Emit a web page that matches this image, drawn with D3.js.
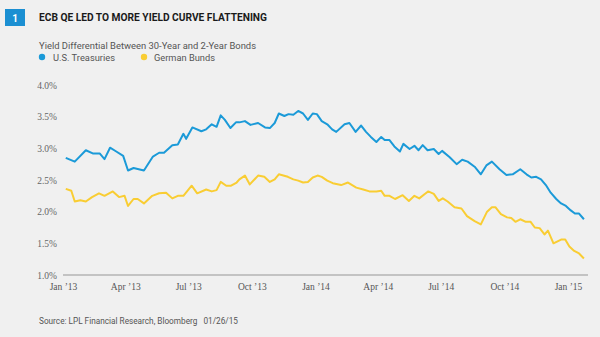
<!DOCTYPE html>
<html>
<head>
<meta charset="utf-8">
<script src="https://cdn.jsdelivr.net/npm/d3@7"></script>
<style>
  html, body { margin: 0; padding: 0; background: #f0f0f0; }
  svg { display: block; }
</style>
</head>
<body>
<svg id="chart" width="600" height="337"></svg>
<script>
// ---- Data ----
const title = "ECB QE LED TO MORE YIELD CURVE FLATTENING";
const subtitle = "Yield Differential Between 30-Year and 2-Year Bonds";
const seriesNames = ["U.S. Treasuries", "German Bunds"];
const source = "Source: LPL Financial Research, Bloomberg   01/26/15";

const usDates = ["2013-01-05","2013-01-18","2013-02-03","2013-02-13","2013-02-23","2013-03-02","2013-03-10","2013-03-19","2013-03-29","2013-04-05","2013-04-13","2013-04-28","2013-05-11","2013-05-20","2013-05-27","2013-06-08","2013-06-16","2013-06-24","2013-06-28","2013-07-07","2013-07-20","2013-07-27","2013-08-04","2013-08-11","2013-08-17","2013-08-23","2013-08-31","2013-09-08","2013-09-13","2013-09-21","2013-09-29","2013-10-10","2013-10-20","2013-10-27","2013-11-03","2013-11-09","2013-11-17","2013-11-23","2013-11-30","2013-12-07","2013-12-14","2013-12-21","2013-12-28","2014-01-03","2014-01-10","2014-01-18","2014-01-25","2014-01-31","2014-02-12","2014-02-19","2014-02-28","2014-03-08","2014-03-15","2014-03-22","2014-03-30","2014-04-06","2014-04-11","2014-04-18","2014-04-25","2014-05-03","2014-05-08","2014-05-17","2014-05-24","2014-05-30","2014-06-05","2014-06-12","2014-06-21","2014-06-28","2014-07-03","2014-07-14","2014-07-24","2014-08-01","2014-08-09","2014-08-19","2014-08-28","2014-09-05","2014-09-13","2014-09-24","2014-10-04","2014-10-13","2014-10-24","2014-11-02","2014-11-09","2014-11-16","2014-11-23","2014-11-30","2014-12-07","2014-12-15","2014-12-22","2014-12-29","2015-01-05","2015-01-11","2015-01-17","2015-01-24"];
const usValues = [2.85,2.79,2.97,2.92,2.92,2.83,3.01,2.95,2.88,2.65,2.69,2.65,2.87,2.93,2.93,3.05,3.06,3.23,3.15,3.33,3.27,3.30,3.38,3.34,3.52,3.45,3.32,3.41,3.41,3.43,3.37,3.40,3.33,3.32,3.40,3.55,3.51,3.54,3.53,3.59,3.55,3.45,3.55,3.54,3.43,3.38,3.30,3.26,3.38,3.40,3.26,3.36,3.26,3.18,3.10,3.18,3.13,3.13,3.03,2.95,3.07,2.99,3.04,2.97,3.05,2.97,2.99,2.91,2.96,2.86,2.75,2.82,2.79,2.71,2.59,2.73,2.79,2.67,2.58,2.59,2.67,2.59,2.54,2.55,2.51,2.42,2.30,2.20,2.13,2.09,2.02,1.97,1.97,1.88];

const deDates = ["2013-01-05","2013-01-13","2013-01-18","2013-01-26","2013-02-03","2013-02-12","2013-02-22","2013-03-02","2013-03-14","2013-03-23","2013-03-31","2013-04-05","2013-04-13","2013-04-19","2013-04-28","2013-05-10","2013-05-20","2013-05-30","2013-06-08","2013-06-16","2013-06-24","2013-07-06","2013-07-14","2013-07-27","2013-08-04","2013-08-11","2013-08-17","2013-08-25","2013-09-01","2013-09-09","2013-09-13","2013-09-21","2013-09-28","2013-10-10","2013-10-19","2013-10-27","2013-11-03","2013-11-09","2013-11-22","2013-11-30","2013-12-07","2013-12-14","2013-12-21","2013-12-28","2014-01-04","2014-01-10","2014-01-18","2014-01-26","2014-02-07","2014-02-17","2014-03-01","2014-03-11","2014-03-20","2014-03-30","2014-04-06","2014-04-11","2014-04-18","2014-04-26","2014-05-07","2014-05-16","2014-05-24","2014-05-31","2014-06-08","2014-06-13","2014-06-21","2014-06-28","2014-07-04","2014-07-11","2014-07-21","2014-07-31","2014-08-08","2014-08-19","2014-08-28","2014-09-06","2014-09-13","2014-09-18","2014-09-26","2014-10-05","2014-10-11","2014-10-17","2014-10-24","2014-11-01","2014-11-08","2014-11-14","2014-11-21","2014-11-28","2014-12-03","2014-12-11","2014-12-22","2014-12-28","2015-01-03","2015-01-10","2015-01-17","2015-01-24"];
const deValues = [2.36,2.33,2.16,2.18,2.16,2.23,2.29,2.25,2.32,2.23,2.25,2.09,2.20,2.20,2.13,2.25,2.29,2.30,2.21,2.25,2.25,2.41,2.29,2.35,2.32,2.34,2.47,2.41,2.41,2.46,2.51,2.57,2.43,2.57,2.55,2.47,2.51,2.59,2.55,2.51,2.49,2.46,2.47,2.54,2.57,2.55,2.49,2.45,2.42,2.46,2.38,2.35,2.32,2.32,2.33,2.25,2.25,2.20,2.26,2.17,2.25,2.21,2.28,2.32,2.28,2.17,2.21,2.16,2.07,2.05,1.93,1.85,1.80,2.00,2.07,2.07,1.96,1.91,1.90,1.84,1.88,1.84,1.84,1.75,1.74,1.64,1.70,1.50,1.56,1.56,1.45,1.38,1.34,1.26];

const yTicks = [1.0, 1.5, 2.0, 2.5, 3.0, 3.5, 4.0];
const xTickDates = ["2013-01-01","2013-04-01","2013-07-01","2013-10-01","2014-01-01","2014-04-01","2014-07-01","2014-10-01","2015-01-01"];
const xTickLabels = ["Jan ’13","Apr ’13","Jul ’13","Oct ’13","Jan ’14","Apr ’14","Jul ’14","Oct ’14","Jan ’15"];

const colors = { us: "#1b9ad8", de: "#f9cd33" };

// ---- Drawing ----
const parse = d3.utcParse("%Y-%m-%d");
const svg = d3.select("#chart");

svg.append("rect").attr("width", 600).attr("height", 337).attr("fill", "#f0f0f0");

const x = d3.scaleUtc()
  .domain([parse("2013-01-01"), parse("2015-01-01")])
  .range([63, 568]);
const y = d3.scaleLinear().domain([1, 4]).range([275, 85]);

// Header badge + title
svg.append("rect").attr("x", 5).attr("y", 9).attr("width", 20).attr("height", 17).attr("fill", "#1b8fd2");
svg.append("text").attr("x", 15).attr("y", 21.5).attr("text-anchor", "middle")
  .attr("fill", "#fff").attr("font-family", "Roboto, sans-serif").attr("font-weight", 700)
  .attr("font-size", 10).text("1");
svg.append("text").attr("x", 39).attr("y", 20.5)
  .attr("font-family", "Roboto, sans-serif").attr("font-weight", 700).attr("font-size", 10.5)
  .attr("fill", "#1a1a1a").attr("textLength", 228).attr("lengthAdjust", "spacingAndGlyphs")
  .text(title);

svg.append("text").attr("x", 39).attr("y", 49)
  .attr("font-family", "Roboto, sans-serif").attr("font-size", 9.5)
  .attr("fill", "#555").attr("textLength", 217).attr("lengthAdjust", "spacingAndGlyphs")
  .text(subtitle);

// Legend
const legendItems = [
  { name: seriesNames[0], color: colors.us, cx: 42, tx: 53, w: 62 },
  { name: seriesNames[1], color: colors.de, cx: 144, tx: 154, w: 61 }
];
legendItems.forEach(it => {
  svg.append("circle").attr("cx", it.cx).attr("cy", 57).attr("r", 3.2).attr("fill", it.color);
  svg.append("text").attr("x", it.tx).attr("y", 60.5)
    .attr("font-family", "Roboto, sans-serif").attr("font-size", 9.5).attr("fill", "#555")
    .attr("textLength", it.w).attr("lengthAdjust", "spacingAndGlyphs").text(it.name);
});

// Y axis (labels only)
const yAxis = d3.axisLeft(y).tickValues(yTicks).tickSize(0).tickPadding(0)
  .tickFormat(d3.format(".1%")).tickFormat(d => d.toFixed(1) + "%");
const gy = svg.append("g").attr("transform", "translate(57,0)").call(yAxis);
gy.select(".domain").remove();
gy.selectAll("text").attr("font-family", "'Liberation Serif', serif").attr("font-size", 9.5)
  .attr("fill", "#666").attr("dy", "0.35em");

// X axis
const xAxis = d3.axisBottom(x).tickValues(xTickDates.map(parse)).tickSize(0).tickPadding(8)
  .tickFormat((d, i) => xTickLabels[i]);
const gx = svg.append("g").attr("transform", "translate(0,275)").call(xAxis);
gx.select(".domain").remove();
gx.selectAll("text").attr("font-family", "'Liberation Serif', serif").attr("font-size", 9.5).attr("fill", "#555");
svg.append("line").attr("x1", 63).attr("x2", 588).attr("y1", 275).attr("y2", 275)
  .attr("stroke", "#b5b5b5").attr("stroke-width", 1.5);

// Lines
const line = d3.line().x(d => x(d.date)).y(d => y(d.value));
const usData = usDates.map((d, i) => ({ date: parse(d), value: usValues[i] }));
const deData = deDates.map((d, i) => ({ date: parse(d), value: deValues[i] }));

svg.append("path").datum(deData).attr("d", line).attr("fill", "none")
  .attr("stroke", colors.de).attr("stroke-width", 2).attr("stroke-linejoin", "round");
svg.append("path").datum(usData).attr("d", line).attr("fill", "none")
  .attr("stroke", colors.us).attr("stroke-width", 2).attr("stroke-linejoin", "round");

// Source
svg.append("text").attr("x", 39).attr("y", 324)
  .attr("font-family", "Roboto, sans-serif").attr("font-size", 8.5).attr("fill", "#555")
  .attr("textLength", 199).attr("lengthAdjust", "spacingAndGlyphs").attr("xml:space", "preserve")
  .text(source);
</script>
</body>
</html>
